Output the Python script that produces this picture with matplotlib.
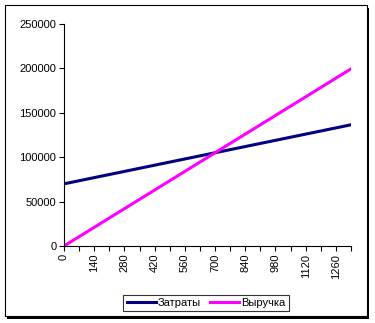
import matplotlib.pyplot as plt
from matplotlib.patches import Rectangle

plt.rcParams['font.family'] = ['Liberation Sans', 'DejaVu Sans']

# volume of output, cost and revenue at each step
volume = [0, 70, 140, 210, 280, 350, 420, 490, 560, 630, 700,
          770, 840, 910, 980, 1050, 1120, 1190, 1260, 1330]
costs = [70000, 73500, 77000, 80500, 84000, 87500, 91000, 94500, 98000, 101500, 105000,
         108500, 112000, 115500, 119000, 122500, 126000, 129500, 133000, 136500]
revenue = [0, 10500, 21000, 31500, 42000, 52500, 63000, 73500, 84000, 94500, 105000,
           115500, 126000, 136500, 147000, 157500, 168000, 178500, 189000, 199500]
y_ticks = [0, 50000, 100000, 150000, 200000, 250000]

fig = plt.figure(figsize=(3.75, 3.23), dpi=100)

# chart frame with a small drop shadow
W, H = 375, 323
fig.patches.append(Rectangle((7 / W, 1 - 319 / H), 362 / W, 311 / H, transform=fig.transFigure,
                             facecolor='black', edgecolor='none', zorder=0))
fig.patches.append(Rectangle((5 / W, 1 - 316 / H), 362 / W, 311 / H, transform=fig.transFigure,
                             facecolor='white', edgecolor='black', linewidth=0.8, zorder=1))

ax = fig.add_axes([64 / W, 1 - 246 / H, 287 / W, 222 / H])
ax.set_zorder(3)
ax.set_facecolor('none')
pos = list(range(len(volume)))
ax.plot(pos, costs, color='#000080', linewidth=2.2, label='Затраты')
ax.plot(pos, revenue, color='#FF00FF', linewidth=2.2, label='Выручка')

ax.set_xlim(0, len(volume) - 1)
ax.set_ylim(0, 250000)
ax.set_yticks(y_ticks)
ax.set_yticklabels([str(v) for v in y_ticks], fontsize=8)
ax.set_xticks(pos)
ax.set_xticklabels([str(v) if i % 2 == 0 else '' for i, v in enumerate(volume)],
                   rotation=90, fontsize=8)
ax.tick_params(direction='out', length=3.5, width=0.8, pad=2)
for side in ('top', 'right'):
    ax.spines[side].set_visible(False)
for side in ('left', 'bottom'):
    ax.spines[side].set_linewidth(0.8)

leg = fig.legend(loc='center', bbox_to_anchor=(206 / W, 1 - 303 / H), ncol=2, fontsize=8,
                 frameon=True, fancybox=False, edgecolor='black', handlelength=2.6,
                 handletextpad=0.2, columnspacing=0.8, borderpad=0.3, borderaxespad=0)
leg.get_frame().set_linewidth(0.8)
leg.set_zorder(4)

fig.savefig('out.png', dpi=100)
